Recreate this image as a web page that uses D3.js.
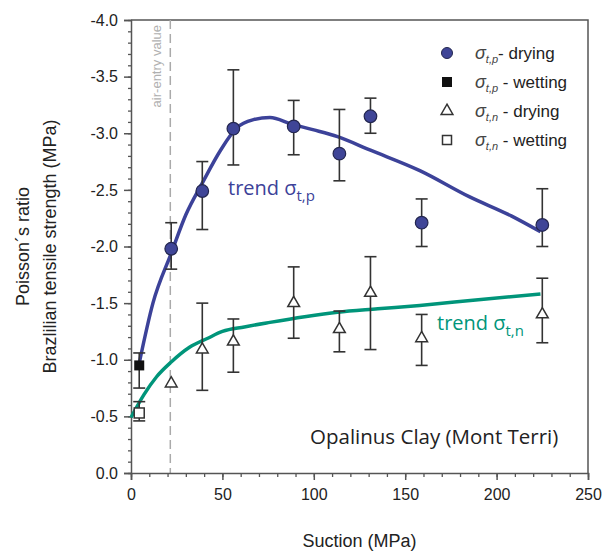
<!DOCTYPE html>
<html>
<head>
<meta charset="utf-8">
<script src="https://cdn.jsdelivr.net/npm/d3@7"></script>
<style>
  body { margin: 0; background: #fff; }
  svg { font-family: "Liberation Sans", Arial, sans-serif; }
</style>
</head>
<body>
<div id="chart"></div>
<script>
// sigma t,p drying (blue circles): suction, value, error bar ends
var tpDryX = [22, 39, 56, 89, 114, 131, 159, 225];
var tpDryY = [-1.98, -2.49, -3.04, -3.06, -2.82, -3.15, -2.21, -2.19];
var tpDryHi = [-2.21, -2.75, -3.56, -3.29, -3.21, -3.31, -2.42, -2.51];
var tpDryLo = [-1.80, -2.15, -2.72, -2.81, -2.58, -3.00, -2.00, -2.00];

// sigma t,p wetting (black square)
var tpWetX = [4.5];
var tpWetY = [-0.95];
var tpWetHi = [-1.06];
var tpWetLo = [-0.75];

// sigma t,n drying (open triangles), first one has no error bar
var tnDryX = [22, 39, 56, 89, 114, 131, 159, 225];
var tnDryY = [-0.79, -1.09, -1.16, -1.50, -1.27, -1.59, -1.19, -1.40];
var tnDryHi = [null, -1.50, -1.36, -1.82, -1.43, -1.91, -1.40, -1.72];
var tnDryLo = [null, -0.73, -0.89, -1.19, -1.07, -1.09, -0.95, -1.15];

// sigma t,n wetting (open square)
var tnWetX = [4.5];
var tnWetY = [-0.53];
var tnWetHi = [-0.63];
var tnWetLo = [-0.46];

// trend curves
var trendPX = [4.5, 12, 22, 30, 39, 49, 58, 67, 76, 88, 100, 113, 131, 158, 185, 208, 224];
var trendPY = [-0.97, -1.50, -1.94, -2.28, -2.56, -2.85, -3.05, -3.12, -3.14, -3.08, -3.03, -2.97, -2.85, -2.67, -2.44, -2.27, -2.13];
var trendNX = [0, 7, 14, 22, 32, 42, 50, 62, 76, 95, 113, 135, 158, 190, 224];
var trendNY = [-0.49, -0.69, -0.85, -0.98, -1.11, -1.19, -1.25, -1.29, -1.33, -1.38, -1.42, -1.45, -1.48, -1.53, -1.58];

var xTicks = [0, 50, 100, 150, 200, 250];
var yTicks = [0, -0.5, -1.0, -1.5, -2.0, -2.5, -3.0, -3.5, -4.0];
var airEntry = 21.5;

var blue = "#3c4299", green = "#00957a", axisCol = "#555";

var margin = { top: 20, right: 19, bottom: 78, left: 131 },
    width = 607 - margin.left - margin.right,
    height = 551 - margin.top - margin.bottom;

var x = d3.scaleLinear().domain([0, 250]).range([0, width]);
var y = d3.scaleLinear().domain([0, -4]).range([height, 0]);

var svg = d3.select("#chart").append("svg")
    .attr("width", 607)
    .attr("height", 551);

var g = svg.append("g")
    .attr("transform", "translate(" + margin.left + "," + margin.top + ")");

// frame (top and right)
g.append("path")
    .attr("d", "M0,0H" + width + "V" + height)
    .attr("fill", "none")
    .attr("stroke", axisCol)
    .attr("stroke-width", 1.5);

// air-entry dashed line
g.append("line")
    .attr("x1", x(airEntry)).attr("x2", x(airEntry))
    .attr("y1", 0).attr("y2", height)
    .attr("stroke", "#aaa")
    .attr("stroke-width", 1.5)
    .attr("stroke-dasharray", "9,5");

g.append("text")
    .attr("transform", "translate(" + (x(airEntry) - 9) + ",5) rotate(-90)")
    .attr("text-anchor", "end")
    .attr("fill", "#b0b0b0")
    .style("font-size", "13px")
    .text("air-entry value");

// x axis with minor ticks
var gx = g.append("g").attr("transform", "translate(0," + height + ")");
gx.call(d3.axisBottom(x).tickValues(d3.range(0, 251, 10)).tickSize(4).tickFormat(""));
gx.call(function(s) {
    s.selectAll(".tick line").attr("stroke", axisCol).attr("stroke-width", 1.3);
    s.select(".domain").remove();
});
var gx2 = g.append("g").attr("transform", "translate(0," + height + ")");
gx2.call(d3.axisBottom(x).tickValues(xTicks).tickSize(7).tickPadding(9));
gx2.select(".domain").attr("stroke", axisCol).attr("stroke-width", 1.5);
gx2.selectAll(".tick line").attr("stroke", axisCol).attr("stroke-width", 1.5);
gx2.selectAll(".tick text").style("font-size", "16px").attr("fill", "#222");

// y axis with minor ticks
var gy = g.append("g");
gy.call(d3.axisLeft(y).tickValues(d3.range(0, 41).map(function(i) { return -i / 10; })).tickSize(3).tickFormat(""));
gy.call(function(s) {
    s.selectAll(".tick line").attr("stroke", axisCol).attr("stroke-width", 1.3);
    s.select(".domain").remove();
});
var gy2 = g.append("g");
gy2.call(d3.axisLeft(y).tickValues(yTicks).tickSize(7).tickPadding(6));
gy2.select(".domain").attr("stroke", axisCol).attr("stroke-width", 1.5);
gy2.selectAll(".tick line").attr("stroke", axisCol).attr("stroke-width", 1.5);
gy2.selectAll(".tick text").style("font-size", "16px").attr("fill", "#222")
    .text(function(d) { return d === 0 ? "0.0" : "-" + Math.abs(d).toFixed(1); });

// axis titles
svg.append("text")
    .attr("x", margin.left + x(125)).attr("y", 547)
    .attr("text-anchor", "middle")
    .style("font-size", "18px").attr("fill", "#222")
    .text("Suction (MPa)");

svg.append("text")
    .attr("transform", "translate(29," + (margin.top + y(-2)) + ") rotate(-90)")
    .attr("text-anchor", "middle")
    .style("font-size", "18px").attr("fill", "#222")
    .text("Poisson\u00b4s ratio");

svg.append("text")
    .attr("transform", "translate(56," + (margin.top + y(-2)) + ") rotate(-90)")
    .attr("text-anchor", "middle")
    .style("font-size", "18px").attr("fill", "#222")
    .text("Brazlilian tensile strength (MPa)");

// trend lines
var line = d3.line()
    .x(function(d) { return x(d[0]); })
    .y(function(d) { return y(d[1]); })
    .curve(d3.curveMonotoneX);

g.append("path")
    .datum(d3.zip(trendNX, trendNY))
    .attr("d", line)
    .attr("fill", "none")
    .attr("stroke", green)
    .attr("stroke-width", 3.5);

g.append("path")
    .datum(d3.zip(trendPX, trendPY))
    .attr("d", line)
    .attr("fill", "none")
    .attr("stroke", blue)
    .attr("stroke-width", 3.5);

// error bars
function errorBars(xs, hi, lo) {
    var data = d3.zip(xs, hi, lo).filter(function(d) { return d[1] !== null; });
    var eb = g.append("g").selectAll("g").data(data).enter().append("g")
        .attr("stroke", "#333").attr("stroke-width", 1.6);
    eb.append("line")
        .attr("x1", function(d) { return x(d[0]); }).attr("x2", function(d) { return x(d[0]); })
        .attr("y1", function(d) { return y(d[1]); }).attr("y2", function(d) { return y(d[2]); });
    eb.append("line")
        .attr("x1", function(d) { return x(d[0]) - 6; }).attr("x2", function(d) { return x(d[0]) + 6; })
        .attr("y1", function(d) { return y(d[1]); }).attr("y2", function(d) { return y(d[1]); });
    eb.append("line")
        .attr("x1", function(d) { return x(d[0]) - 6; }).attr("x2", function(d) { return x(d[0]) + 6; })
        .attr("y1", function(d) { return y(d[2]); }).attr("y2", function(d) { return y(d[2]); });
}
errorBars(tpDryX, tpDryHi, tpDryLo);
errorBars(tpWetX, tpWetHi, tpWetLo);
errorBars(tnDryX, tnDryHi, tnDryLo);
errorBars(tnWetX, tnWetHi, tnWetLo);

// markers
var tri = d3.symbol().type(d3.symbolTriangle).size(60);

g.append("g").selectAll("path").data(d3.zip(tnDryX, tnDryY)).enter().append("path")
    .attr("d", tri)
    .attr("transform", function(d) { return "translate(" + x(d[0]) + "," + y(d[1]) + ")"; })
    .attr("fill", "#fff").attr("stroke", "#333").attr("stroke-width", 1.5);

g.append("g").selectAll("rect").data(d3.zip(tnWetX, tnWetY)).enter().append("rect")
    .attr("x", function(d) { return x(d[0]) - 5; })
    .attr("y", function(d) { return y(d[1]) - 5; })
    .attr("width", 10).attr("height", 10)
    .attr("fill", "#fff").attr("stroke", "#333").attr("stroke-width", 1.5);

g.append("g").selectAll("rect").data(d3.zip(tpWetX, tpWetY)).enter().append("rect")
    .attr("x", function(d) { return x(d[0]) - 5; })
    .attr("y", function(d) { return y(d[1]) - 5; })
    .attr("width", 10).attr("height", 10)
    .attr("fill", "#111");

g.append("g").selectAll("circle").data(d3.zip(tpDryX, tpDryY)).enter().append("circle")
    .attr("cx", function(d) { return x(d[0]); })
    .attr("cy", function(d) { return y(d[1]); })
    .attr("r", 6.3)
    .attr("fill", "#3f4597").attr("stroke", "#23264f").attr("stroke-width", 1.2);

// trend labels
function trendLabel(tx, ty, sub, col) {
    var t = g.append("text")
        .attr("x", tx).attr("y", ty)
        .attr("fill", col)
        .style("font-family", "'Open Sans', 'Noto Sans', sans-serif")
        .style("font-size", "20px");
    t.append("tspan").text("trend \u03c3");
    t.append("tspan").attr("dy", 6).style("font-size", "15px").text(sub);
}
trendLabel(97, 175, "t,p", blue);
trendLabel(306, 310, "t,n", green);

g.append("text")
    .attr("x", 179).attr("y", 424)
    .attr("fill", "#222")
    .style("font-family", "'Open Sans', 'Noto Sans', sans-serif")
    .style("font-size", "20.5px")
    .text("Opalinus Clay (Mont Terri)");

// legend
var legLabels = [["t,p", "- drying"], ["t,p", " - wetting"], ["t,n", " - drying"], ["t,n", " - wetting"]];
var legend = g.append("g").selectAll("g").data(legLabels).enter().append("g")
    .attr("transform", function(d, i) { return "translate(" + (447 - margin.left) + "," + (33 + i * 29) + ")"; });

legend.each(function(d, i) {
    var s = d3.select(this);
    if (i === 0) s.append("circle").attr("r", 5.5).attr("fill", "#3f4597").attr("stroke", "#23264f");
    if (i === 1) s.append("rect").attr("x", -5).attr("y", -5).attr("width", 10).attr("height", 10).attr("fill", "#111");
    if (i === 2) s.append("path").attr("d", tri).attr("fill", "#fff").attr("stroke", "#333").attr("stroke-width", 1.5);
    if (i === 3) s.append("rect").attr("x", -4.5).attr("y", -4.5).attr("width", 9).attr("height", 9).attr("fill", "#fff").attr("stroke", "#333").attr("stroke-width", 1.5);
    var t = s.append("text").attr("x", 28).attr("y", 6).style("font-size", "17px").attr("fill", "#222");
    t.append("tspan").style("font-style", "italic").attr("fill", "#444").style("font-size", "18px").text("\u03c3");
    t.append("tspan").attr("dy", 4).style("font-style", "italic").style("font-size", "11px").attr("fill", "#444").text(d[0]);
    t.append("tspan").attr("dy", -4).text(d[1]);
});
</script>
</body>
</html>
